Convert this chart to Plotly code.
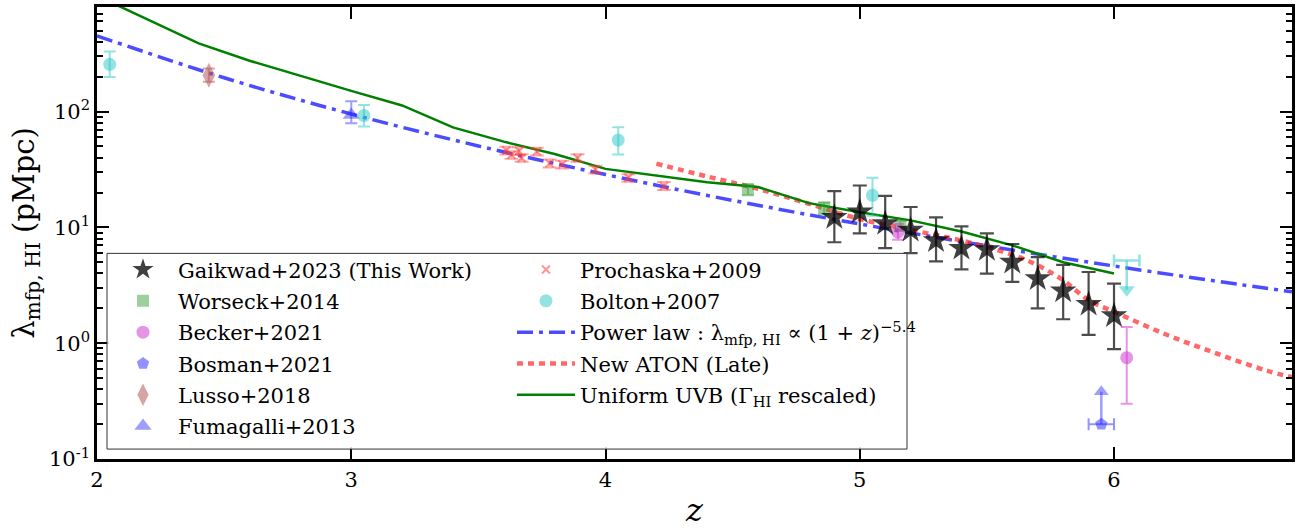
import math
import plotly.graph_objects as go

# ---------------- data ----------------
# Gaikwad+2023 (This Work)
gaik_z = [4.9, 5.0, 5.1, 5.2, 5.3, 5.4, 5.5, 5.6, 5.7, 5.8, 5.9, 6.0]
gaik_v = [12.2, 13.6, 10.8, 9.48, 7.69, 6.61, 6.44, 5.01, 3.61, 2.83, 2.17, 1.73]
gaik_hi = [20.6, 23.0, 18.7, 15.0, 12.2, 10.2, 8.88, 7.19, 5.53, 4.75, 4.12, 3.27]
gaik_lo = [7.44, 8.88, 6.61, 5.99, 5.08, 4.34, 3.98, 3.38, 2.00, 1.61, 1.18, 0.89]

# Worseck+2014
wor_z = [4.56, 4.86, 5.16]
wor_v = [21.3, 14.8, 10.3]
wor_hi = [23.5, 16.4, 11.4]
wor_lo = [18.9, 13.0, 9.4]

# Becker+2021
bec_z = [5.15, 6.05]
bec_v = [9.09, 0.75]
bec_hi = [10.7, 1.38]
bec_lo = [7.81, 0.30]

# Bosman+2021 (lower limit)
bos_z = [5.95]
bos_v = [0.20]
bos_zerr = [0.05]
bos_arrow_to = [0.38]

# Lusso+2018
lus_z = [2.44]
lus_v = [206.0]
lus_hi = [235.0]
lus_lo = [181.0]

# Fumagalli+2013
fum_z = [3.0]
fum_v = [93.6]
fum_hi = [123.0]
fum_lo = [79.4]

# Prochaska+2009
pro_z = [3.61, 3.63, 3.66, 3.67, 3.73, 3.78, 3.83, 3.89, 3.96, 4.09, 4.23]
pro_v = [46.1, 42.3, 45.7, 39.8, 45.2, 35.7, 35.0, 39.8, 31.6, 26.8, 22.8]
pro_err = [3.5, 3.2, 3.5, 3.0, 3.4, 2.8, 2.7, 3.0, 2.4, 2.0, 1.8]

# Bolton+2007
bol_z = [2.05, 3.05, 4.05, 5.05]
bol_v = [256.0, 92.4, 56.7, 18.9]
bol_hi = [330.0, 114.0, 73.3, 26.8]
bol_lo = [199.0, 74.3, 42.5, 12.6]
bol_lim_z = [6.05]
bol_lim_v = [5.18]
bol_lim_zerr = [0.05]
bol_arrow_to = [2.9]

# Power law  lambda ~ (1+z)^-5.4
pl_z = [2.0, 2.5, 3.0, 3.5, 4.0, 4.5, 5.0, 5.5, 6.0, 6.5, 6.7]
pl_v = [450.7, 196.0, 95.3, 50.5, 28.6, 17.1, 10.7, 6.93, 4.64, 3.20, 2.78]

# New ATON (Late)
aton_z = [4.2, 4.4, 4.6, 4.8, 5.0, 5.2, 5.4, 5.6, 5.7, 5.8, 5.9, 6.0, 6.2, 6.4, 6.6, 6.7]
aton_v = [35.5, 27.5, 21.5, 16.0, 11.8, 9.5, 7.7, 5.8, 4.7, 3.5, 2.35, 1.87, 1.2, 0.82, 0.58, 0.51]

# Uniform UVB (Gamma_HI rescaled)
uvb_z = [2.0, 2.2, 2.4, 2.6, 2.8, 3.0, 3.2, 3.4, 3.6, 3.8, 4.0, 4.2, 4.4, 4.6, 4.8,
         5.0, 5.2, 5.4, 5.6, 5.8, 6.0]
uvb_v = [1000, 624, 388, 275, 203, 151, 113, 73, 55, 43, 32, 28, 24.5, 22.3, 16.2,
         13.5, 11.5, 9.2, 7.0, 5.0, 4.0]

# axis ticks
x_ticks = [2, 3, 4, 5, 6]
y_ticks = [0.1, 1, 10, 100]
y_ticktext = ["10<sup>-1</sup>", "10<sup>0</sup>", "10<sup>1</sup>", "10<sup>2</sup>"]

# ---------------- figure ----------------
FONT = "DejaVu Serif"
fig = go.Figure()


def eb(v, hi, lo, color, thick=2, width=6):
    return dict(type="data", symmetric=False,
                array=[h - x for h, x in zip(hi, v)],
                arrayminus=[x - l for l, x in zip(lo, v)],
                color=color, thickness=thick, width=width)


BLUE_PT = "rgba(40,40,255,0.45)"
CYAN_PT = "rgba(40,200,200,0.5)"

# model curves
fig.add_trace(go.Scatter(x=pl_z, y=pl_v, mode="lines", line_shape="spline",
                         name="Power law : λ<sub>mfp, HI</sub> ∝ (1 + <i>z</i>)<sup>−5.4</sup>",
                         line=dict(color="rgba(30,30,255,0.8)", width=3.5, dash="16px,6px,4px,6px"),
                         legend="legend2"))
fig.add_trace(go.Scatter(x=aton_z, y=aton_v, mode="lines", line_shape="spline",
                         name="New ATON (Late)",
                         line=dict(color="rgba(255,40,40,0.7)", width=4.5, dash="6px,5px"),
                         legend="legend2"))
fig.add_trace(go.Scatter(x=uvb_z, y=uvb_v, mode="lines",
                         name="Uniform UVB (Γ<sub>HI</sub> rescaled)",
                         line=dict(color="#008000", width=2.5),
                         legend="legend2"))

# limit arrows (shaft + head)
fig.add_trace(go.Scatter(x=[bos_z[0], bos_z[0]], y=[bos_v[0], bos_arrow_to[0]], mode="lines",
                         showlegend=False, line=dict(color=BLUE_PT, width=2.5), hoverinfo="skip"))
fig.add_trace(go.Scatter(x=bos_z, y=bos_arrow_to, mode="markers", showlegend=False,
                         marker=dict(symbol="triangle-up", size=13, color=BLUE_PT), hoverinfo="skip"))
fig.add_trace(go.Scatter(x=[bol_lim_z[0], bol_lim_z[0]], y=[bol_lim_v[0], bol_arrow_to[0]],
                         mode="lines", showlegend=False, line=dict(color=CYAN_PT, width=2.5),
                         hoverinfo="skip"))
fig.add_trace(go.Scatter(x=bol_lim_z, y=bol_arrow_to, mode="markers", showlegend=False,
                         marker=dict(symbol="triangle-down", size=14, color=CYAN_PT), hoverinfo="skip"))

# data points
fig.add_trace(go.Scatter(x=wor_z, y=wor_v, mode="markers", name="Worseck+2014",
                         marker=dict(symbol="square", size=12, color="rgba(40,150,40,0.45)"),
                         error_y=eb(wor_v, wor_hi, wor_lo, "rgba(40,150,40,0.45)")))
fig.add_trace(go.Scatter(x=bec_z, y=bec_v, mode="markers", name="Becker+2021",
                         marker=dict(symbol="circle", size=13, color="rgba(210,60,210,0.55)"),
                         error_y=eb(bec_v, bec_hi, bec_lo, "rgba(210,60,210,0.55)")))
fig.add_trace(go.Scatter(x=bos_z, y=bos_v, mode="markers", name="Bosman+2021",
                         marker=dict(symbol="pentagon", size=13, color="rgba(40,40,255,0.5)"),
                         error_x=dict(type="data", array=bos_zerr, color="rgba(40,40,255,0.5)",
                                      thickness=2, width=6)))
fig.add_trace(go.Scatter(x=lus_z, y=lus_v, mode="markers", name="Lusso+2018",
                         marker=dict(symbol="diamond-tall", size=18, color="rgba(180,90,90,0.55)"),
                         error_y=eb(lus_v, lus_hi, lus_lo, "rgba(180,90,90,0.55)")))
fig.add_trace(go.Scatter(x=fum_z, y=fum_v, mode="markers", name="Fumagalli+2013",
                         marker=dict(symbol="triangle-up", size=15, color=BLUE_PT),
                         error_y=eb(fum_v, fum_hi, fum_lo, BLUE_PT)))
fig.add_trace(go.Scatter(x=pro_z, y=pro_v, mode="markers", name="Prochaska+2009",
                         marker=dict(symbol="x-thin", size=8, color="rgba(255,60,60,0.55)",
                                     line=dict(width=2, color="rgba(255,60,60,0.55)")),
                         error_y=dict(type="data", array=pro_err, color="rgba(255,60,60,0.45)",
                                      thickness=2, width=7),
                         legend="legend2"))
fig.add_trace(go.Scatter(x=bol_z, y=bol_v, mode="markers", name="Bolton+2007",
                         marker=dict(symbol="circle", size=13, color=CYAN_PT),
                         error_y=eb(bol_v, bol_hi, bol_lo, CYAN_PT),
                         legend="legend2"))
fig.add_trace(go.Scatter(x=bol_lim_z, y=bol_lim_v, mode="markers", showlegend=False,
                         marker=dict(symbol="line-ew", size=2, color=CYAN_PT),
                         error_x=dict(type="data", array=bol_lim_zerr, color=CYAN_PT,
                                      thickness=2.5, width=6)))
fig.add_trace(go.Scatter(x=gaik_z, y=gaik_v, mode="markers", name="Gaikwad+2023 (This Work)",
                         marker=dict(symbol="star", size=20, color="rgba(0,0,0,0.75)"),
                         error_y=eb(gaik_v, gaik_hi, gaik_lo, "rgba(0,0,0,0.7)", thick=2.2, width=7)))

# legend frame
fig.add_shape(type="rect", xref="paper", yref="paper",
              x0=(107 - 97) / 1195, x1=(907 - 97) / 1195,
              y0=1 - (449 - 4) / 455, y1=1 - (252 - 4) / 455,
              line=dict(color="#333333", width=1), fillcolor="rgba(255,255,255,0.85)", layer="above")

order1 = ["Gaikwad+2023 (This Work)", "Worseck+2014", "Becker+2021", "Bosman+2021",
          "Lusso+2018", "Fumagalli+2013"]
order2 = ["Prochaska+2009", "Bolton+2007"]
rank = {n: i for i, n in enumerate(order1 + order2)}
for tr in fig.data:
    if tr.name in rank:
        tr.legendrank = rank[tr.name]
        tr.legendgroup = tr.name
for i, tr in enumerate(fig.data[:3]):
    tr.legendrank = 100 + i
    tr.legendgroup = tr.name

axis_common = dict(showline=True, linecolor="black", linewidth=2.5, mirror="allticks",
                   ticks="inside", tickcolor="black", tickwidth=2, showgrid=False, zeroline=False,
                   tickfont=dict(family=FONT, size=21, color="black"))

fig.update_layout(
    width=1303, height=532,
    margin=dict(l=97, r=11, t=4, b=73),
    paper_bgcolor="white", plot_bgcolor="white",
    font=dict(family=FONT, size=21, color="black"),
    xaxis=dict(range=[2, 6.7], tickvals=x_ticks, ticklen=12,
               title=dict(text="<i>z</i>", font=dict(family=FONT, size=32), standoff=8),
               **axis_common),
    yaxis=dict(type="log", range=[-1, math.log10(800)], tickvals=y_ticks, ticktext=y_ticktext,
               ticklen=12,
               minor=dict(ticks="inside", ticklen=6, tickwidth=2, tickcolor="black",
                          tickvals=[m * d for d in [0.1, 1, 10, 100] for m in range(2, 10)]),
               title=dict(text="λ<sub>mfp, HI</sub> (pMpc)", font=dict(family=FONT, size=29),
                          standoff=6),
               **axis_common),
    legend=dict(x=(108 - 97) / 1195, y=1 - (248 - 4) / 455, xanchor="left", yanchor="top",
                bgcolor="rgba(0,0,0,0)", borderwidth=0, itemwidth=60, tracegroupgap=1,
                font=dict(family=FONT, size=21)),
    legend2=dict(x=(512 - 97) / 1195, y=1 - (248 - 4) / 455, xanchor="left", yanchor="top",
                 bgcolor="rgba(0,0,0,0)", borderwidth=0, itemwidth=58, tracegroupgap=1,
                 font=dict(family=FONT, size=21)),
    showlegend=True,
)

fig.write_html("out.html")
